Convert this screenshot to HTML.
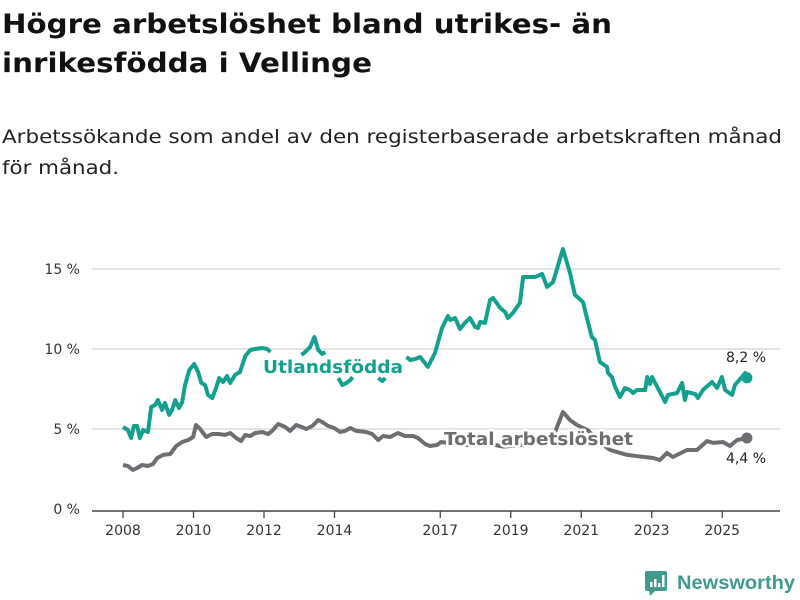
<!DOCTYPE html>
<html><head><meta charset="utf-8"><style>
html,body{margin:0;padding:0;background:#fff;width:800px;height:600px;overflow:hidden}
svg{display:block;font-family:"DejaVu Sans","Liberation Sans",sans-serif}
.halo{paint-order:stroke;stroke:#fff;stroke-width:5px;stroke-linejoin:round}
</style></head><body>
<svg id="chart" width="800" height="600" viewBox="0 0 800 600">
<text x="2" y="33" font-size="27" font-weight="bold" fill="#111" textLength="610" lengthAdjust="spacingAndGlyphs">Högre arbetslöshet bland utrikes- än</text>
<text x="2" y="72" font-size="27" font-weight="bold" fill="#111" textLength="370" lengthAdjust="spacingAndGlyphs">inrikesfödda i Vellinge</text>
<text x="2" y="143" font-size="19" fill="#222" textLength="780" lengthAdjust="spacingAndGlyphs">Arbetssökande som andel av den registerbaserade arbetskraften månad</text>
<text x="2" y="174" font-size="19" fill="#222" textLength="117" lengthAdjust="spacingAndGlyphs">för månad.</text>
<g id="grid"></g>
<g id="yaxis"></g>
<g id="xaxis"></g>
<g id="series"></g>
<g id="labels"></g>
<g>
<rect x="645" y="571" width="22" height="20" rx="2" fill="#3f9b8f"/>
<polygon points="649,590 656,590 650,596" fill="#3f9b8f"/>
<rect x="650" y="582" width="2.5" height="5" fill="#fff"/><rect x="654" y="579" width="2.5" height="8" fill="#fff"/><rect x="658" y="583" width="2.5" height="4" fill="#fff"/><rect x="662" y="575" width="2.5" height="12" fill="#fff"/>
<text x="677" y="589" font-size="19" font-weight="bold" fill="#3f9b8f" textLength="118" lengthAdjust="spacingAndGlyphs" font-family="Liberation Sans, sans-serif">Newsworthy</text>
</g>
</svg>
<script>
const yTicks=[0,5,10,15];
const yTickLabels=["0 %","5 %","10 %","15 %"];
const xTicks=[2008,2010,2012,2014,2017,2019,2021,2023,2025];
const utlYears=[2008.00,2008.14,2008.23,2008.31,2008.40,2008.48,2008.57,2008.71,2008.80,2008.91,2008.99,2009.11,2009.19,2009.31,2009.39,2009.48,2009.59,2009.68,2009.76,2009.88,2010.02,2010.13,2010.22,2010.33,2010.41,2010.53,2010.64,2010.73,2010.84,2010.95,2011.04,2011.18,2011.32,2011.47,2011.61,2011.75,2011.95,2012.09,2012.18,2012.4,2013.06,2013.17,2013.31,2013.43,2013.54,2013.65,2013.74,2013.9,2014.11,2014.22,2014.34,2014.45,2014.51,2014.8,2015.24,2015.36,2015.44,2015.7,2016.04,2016.15,2016.30,2016.43,2016.65,2016.85,2017.05,2017.22,2017.28,2017.42,2017.56,2017.70,2017.84,2017.99,2018.07,2018.13,2018.27,2018.41,2018.50,2018.70,2018.84,2018.92,2019.06,2019.26,2019.35,2019.69,2019.89,2020.03,2020.20,2020.48,2020.68,2020.82,2021.05,2021.16,2021.30,2021.39,2021.53,2021.73,2021.76,2021.87,2021.96,2022.10,2022.24,2022.38,2022.47,2022.58,2022.81,2022.87,2022.95,2023.01,2023.23,2023.38,2023.46,2023.72,2023.86,2023.94,2024.00,2024.23,2024.31,2024.45,2024.71,2024.85,2024.99,2025.08,2025.28,2025.36,2025.56,2025.65,2025.70];
const utlValues=[5.13,4.94,4.44,5.19,5.19,4.44,4.94,4.81,6.38,6.5,6.81,6.19,6.63,5.88,6.19,6.81,6.31,6.69,7.75,8.69,9.06,8.56,7.88,7.75,7.13,6.94,7.56,8.19,7.94,8.31,7.88,8.38,8.56,9.56,9.94,10.0,10.06,10.0,9.81,null,9.63,9.81,10.13,10.75,9.94,9.69,9.81,null,8.19,7.75,7.88,8.06,8.25,null,8.19,8.0,8.19,null,9.5,9.31,9.38,9.5,8.88,9.75,11.31,12.06,11.81,11.94,11.25,11.63,11.94,11.38,11.31,11.69,11.63,13.06,13.19,12.56,12.31,11.94,12.25,12.88,14.5,14.5,14.69,13.88,14.19,16.25,14.75,13.38,12.94,11.94,10.75,10.56,9.19,8.88,8.5,8.25,7.63,7.0,7.56,7.44,7.25,7.44,7.44,8.25,7.81,8.25,7.31,6.69,7.13,7.25,7.88,6.81,7.31,7.19,6.94,7.44,7.94,7.56,8.25,7.44,7.13,7.75,8.25,8.5,8.2];
const totYears=[2008.00,2008.14,2008.28,2008.40,2008.54,2008.71,2008.85,2008.97,2009.14,2009.34,2009.51,2009.68,2009.85,2009.99,2010.07,2010.19,2010.36,2010.53,2010.70,2010.90,2011.04,2011.21,2011.35,2011.47,2011.61,2011.75,2011.95,2012.12,2012.23,2012.40,2012.60,2012.74,2012.91,2013.06,2013.20,2013.37,2013.54,2013.65,2013.82,2013.99,2014.16,2014.30,2014.45,2014.62,2014.90,2015.07,2015.24,2015.38,2015.58,2015.80,2016.00,2016.23,2016.37,2016.57,2016.71,2016.91,2017.02,2017.3,2017.8,2018.3,2018.8,2019.3,2019.8,2020.20,2020.48,2020.68,2020.88,2021.2,2021.5,2021.82,2022.30,2023.04,2023.23,2023.43,2023.60,2024.00,2024.28,2024.57,2024.74,2025.02,2025.22,2025.42,2025.70];
const totValues=[2.75,2.69,2.44,2.56,2.75,2.69,2.81,3.19,3.38,3.44,3.94,4.19,4.31,4.5,5.25,5.0,4.5,4.69,4.69,4.63,4.75,4.44,4.25,4.63,4.56,4.75,4.81,4.69,4.88,5.31,5.13,4.88,5.25,5.13,5.0,5.19,5.56,5.44,5.19,5.06,4.81,4.88,5.06,4.88,4.81,4.69,4.31,4.56,4.5,4.75,4.56,4.56,4.44,4.06,3.94,4.0,4.19,4.1,4.0,4.1,3.9,4.0,4.2,4.5,6.06,5.56,5.25,4.9,4.2,3.69,3.38,3.19,3.06,3.5,3.25,3.69,3.69,4.25,4.13,4.19,3.94,4.31,4.44];
const utlLastLabel="8,2 %";
const totLastLabel="4,4 %";

const NS="http://www.w3.org/2000/svg";
const X=yr=>123+(yr-2008)*35.25;
const Y=v=>509-v*16;
function mk(tag,attrs,parent){const e=document.createElementNS(NS,tag);for(const k in attrs)e.setAttribute(k,attrs[k]);parent.appendChild(e);return e;}
const grid=document.getElementById('grid'),ya=document.getElementById('yaxis'),xa=document.getElementById('xaxis'),ser=document.getElementById('series'),lab=document.getElementById('labels');
yTicks.forEach((t,i)=>{
  if(t>0){const l=mk('line',{x1:92,x2:780,y1:Y(t),y2:Y(t),stroke:'#dcdcdc','stroke-width':1.5},grid);
  
  }
  const tx=mk('text',{x:80,y:Y(t)+5,'text-anchor':'end','font-size':14,fill:'#333'},ya);
  tx.textContent=yTickLabels[i];
  
  
});
const ax=mk('line',{x1:92,x2:780,y1:511,y2:511,stroke:'#444','stroke-width':1.5},xa);


xTicks.forEach(t=>{
  mk('line',{x1:X(t),x2:X(t),y1:511,y2:518,stroke:'#444','stroke-width':1.3},xa);
  const tx=mk('text',{x:X(t),y:535,'text-anchor':'middle','font-size':14,fill:'#333'},xa);
  tx.textContent=t;
  
  
});
function path(years,vals){let d='',pen=false;years.forEach((yr,i)=>{const v=vals[i];if(v==null){pen=false;return;}d+=(pen?'L':'M')+X(yr).toFixed(1)+','+Y(v).toFixed(1);pen=true;});return d;}
const pt=mk('path',{d:path(totYears,totValues),fill:'none',stroke:'#6f6d72','stroke-width':4,'stroke-linejoin':'round'},ser);


const pu=mk('path',{d:path(utlYears,utlValues),fill:'none',stroke:'#14a08f','stroke-width':4,'stroke-linejoin':'round'},ser);


const ut=mk('text',{x:263,y:373,'font-size':18,'font-weight':'bold',fill:'#14a08f',class:'halo',textLength:140,lengthAdjust:'spacingAndGlyphs'},lab);
ut.textContent='Utlandsfödda';


const tt=mk('text',{x:444,y:445,'font-size':18,'font-weight':'bold',fill:'#6f6d72',class:'halo',textLength:189,lengthAdjust:'spacingAndGlyphs'},lab);
tt.textContent='Total arbetslöshet';


const lu=utlValues.length-1,lt=totValues.length-1;
const du=mk('circle',{cx:X(utlYears[lu]),cy:Y(utlValues[lu]),r:5.5,fill:'#14a08f'},ser);


const dt=mk('circle',{cx:X(totYears[lt]),cy:Y(totValues[lt]),r:5.5,fill:'#6f6d72'},ser);


const vu=mk('text',{x:746,y:Y(utlValues[lu])-16,'text-anchor':'middle','font-size':14,fill:'#222'},lab);
vu.textContent=utlLastLabel;


const vt=mk('text',{x:746,y:Y(totValues[lt])+25,'text-anchor':'middle','font-size':14,fill:'#222'},lab);
vt.textContent=totLastLabel;


</script>
</body></html>
